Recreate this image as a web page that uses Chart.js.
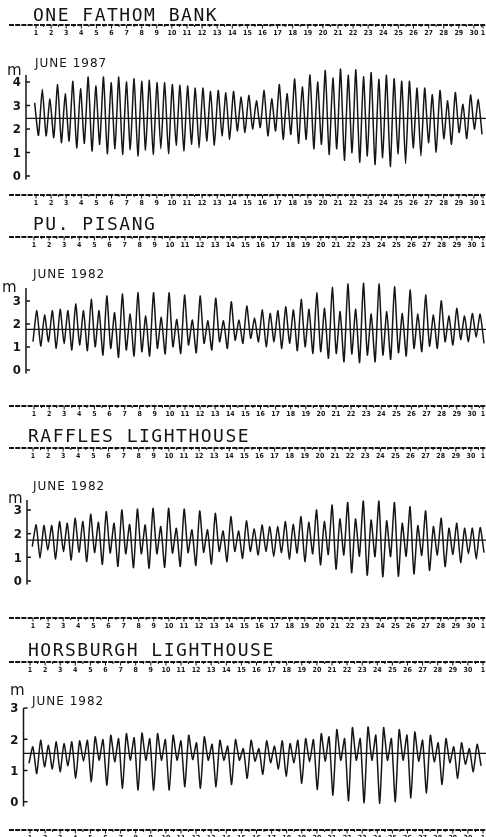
<!DOCTYPE html>
<html>
<head>
<meta charset="utf-8">
<title>Tide records, June 1982</title>
<script src="https://cdn.jsdelivr.net/npm/chart.js@4.4.1/dist/chart.umd.min.js"></script>
<style>
  body { margin: 0; background: #fff; }
  #sheet { width: 486px; }
  canvas { display: block; }
</style>
</head>
<body>
<div id="sheet"></div>
<script>
// day numbers printed on the date strips (the last one is 1 July)
const dayTicks = [1, 2, 3, 4, 5, 6, 7, 8, 9, 10, 11, 12, 13, 14, 15, 16, 17, 18, 19, 20,
                  21, 22, 23, 24, 25, 26, 27, 28, 29, 30, 31];
const dayLabels = ['1', '2', '3', '4', '5', '6', '7', '8', '9', '10', '11', '12', '13', '14', '15',
                   '16', '17', '18', '19', '20', '21', '22', '23', '24', '25', '26', '27', '28', '29', '30', '1'];

const stationNames = ['ONE FATHOM BANK', 'PU. PISANG', 'RAFFLES LIGHTHOUSE', 'HORSBURGH LIGHTHOUSE'];
const monthLabels = ['JUNE 1987', 'JUNE 1982', 'JUNE 1982', 'JUNE 1982'];
const metreTicks = [[0, 1, 2, 3, 4], [0, 1, 2, 3], [0, 1, 2, 3], [0, 1, 2, 3]];
const meanLevels = [2.45, 1.77, 1.73, 1.55];

// day of June of the first and last turning point in each record
const turnStart = [0.91, 0.93, 0.95, 0.93];
const turnEnd = [30.54, 30.80, 30.87, 30.87];

// high and low waters (m), in order
const fathomHigh = [3.11, 3.69, 3.28, 3.89, 3.50, 4.03, 3.71, 4.21, 3.83, 4.21,
                    3.97, 4.21, 4.00, 4.14, 4.03, 4.07, 3.97, 3.97, 3.89, 3.86,
                    3.83, 3.74, 3.74, 3.60, 3.64, 3.54, 3.60, 3.36, 3.43, 3.20,
                    3.64, 3.28, 3.89, 3.50, 4.13, 3.79, 4.30, 4.00, 4.49, 4.17,
                    4.55, 4.29, 4.52, 4.22, 4.40, 4.11, 4.29, 4.14, 4.03, 4.03,
                    3.74, 3.74, 3.46, 3.64, 3.20, 3.55, 3.05, 3.45, 3.25];
const fathomLow = [1.73, 1.71, 1.63, 1.42, 1.49, 1.20, 1.39, 1.06, 1.35, 0.95,
                   1.16, 0.92, 1.13, 0.85, 1.10, 0.92, 1.16, 0.96, 1.31, 1.06,
                   1.35, 1.20, 1.49, 1.31, 1.71, 1.56, 1.92, 1.85, 2.00,
                   2.06, 1.71, 1.92, 1.56, 1.77, 1.39, 1.56, 1.16, 1.35, 0.92,
                   1.16, 0.67, 0.99, 0.59, 0.85, 0.49, 0.78, 0.40, 0.95, 0.53,
                   1.20, 0.85, 1.42, 1.02, 1.59, 1.35, 1.85, 1.59, 1.99, 1.77];

const pisangLow = [1.23, 1.04, 1.23, 0.94, 1.16, 0.87, 1.09, 0.84, 1.01, 0.65,
                   0.94, 0.55, 0.87, 0.61, 0.80, 0.61, 0.94, 0.70, 1.01, 0.72,
                   1.09, 0.75, 1.16, 0.87, 1.23, 0.94, 1.30, 1.16, 1.38,
                   1.23, 1.01, 1.23, 0.94, 1.16, 0.84, 1.01, 0.72, 0.80, 0.51,
                   0.72, 0.36, 0.70, 0.32, 0.65, 0.36, 0.65, 0.46, 0.75, 0.61,
                   0.94, 0.80, 1.04, 0.94, 1.23, 1.09, 1.33, 1.23, 1.42, 1.16];
const pisangHigh = [2.58, 2.39, 2.58, 2.64, 2.58, 2.87, 2.58, 3.07, 2.58, 3.22,
                    2.49, 3.30, 2.43, 3.36, 2.35, 3.36, 2.29, 3.36, 2.20, 3.26,
                    2.17, 3.22, 2.14, 3.12, 2.14, 2.97, 2.17, 2.78, 2.25,
                    2.61, 2.46, 2.58, 2.75, 2.61, 3.07, 2.64, 3.36, 2.68, 3.59,
                    2.54, 3.74, 2.64, 3.77, 2.43, 3.74, 2.54, 3.62, 2.46, 3.48,
                    2.43, 3.26, 2.39, 3.01, 2.35, 2.68, 2.35, 2.46, 2.43];

const rafflesLow = [1.45, 0.96, 1.30, 0.93, 1.25, 0.89, 1.22, 0.82, 1.20, 0.70,
                    1.18, 0.62, 1.15, 0.56, 1.15, 0.54, 1.15, 0.58, 1.18, 0.61,
                    1.20, 0.66, 1.22, 0.72, 1.25, 0.82, 1.25, 0.96, 1.25,
                    1.10, 1.25, 1.03, 1.20, 0.93, 1.18, 0.82, 1.15, 0.68, 1.12,
                    0.50, 1.10, 0.35, 1.05, 0.24, 1.03, 0.18, 1.03, 0.20, 1.05,
                    0.30, 1.08, 0.45, 1.10, 0.61, 1.12, 0.78, 1.15, 0.93, 1.20];
const rafflesHigh = [2.37, 2.34, 2.34, 2.51, 2.44, 2.65, 2.51, 2.82, 2.48, 2.93,
                     2.44, 3.00, 2.39, 3.04, 2.37, 3.07, 2.30, 3.07, 2.23, 3.04,
                     2.16, 2.96, 2.16, 2.86, 2.11, 2.72, 2.11, 2.54, 2.20,
                     2.37, 2.30, 2.30, 2.51, 2.39, 2.72, 2.48, 3.00, 2.51, 3.21,
                     2.62, 3.32, 2.62, 3.38, 2.58, 3.38, 2.54, 3.32, 2.44, 3.14,
                     2.34, 2.96, 2.30, 2.65, 2.23, 2.44, 2.23, 2.23, 2.26];

const horsburghLow = [1.23, 0.90, 1.12, 1.05, 0.96, 1.15, 0.75, 1.30, 0.64, 1.33,
                      0.53, 1.28, 0.43, 1.33, 0.37, 1.33, 0.37, 1.33, 0.37, 1.33,
                      0.48, 1.35, 0.43, 1.33, 0.48, 1.33, 0.55, 1.33,
                      0.75, 1.30, 0.88, 1.25, 1.05, 0.82, 1.25, 0.58, 1.28, 0.39,
                      1.30, 0.21, 1.33, 0.03, 1.33, -0.03, 1.33, -0.05, 1.33, 0.00,
                      1.33, 0.12, 1.30, 0.28, 1.28, 0.55, 1.25, 0.75, 1.20, 0.96, 1.15];
const horsburghHigh = [1.76, 1.97, 1.81, 1.92, 1.86, 1.92, 1.95, 1.97, 2.08, 1.99,
                       2.13, 2.02, 2.18, 2.05, 2.20, 2.02, 2.18, 1.99, 2.13, 1.95,
                       2.13, 1.89, 2.08, 1.84, 1.97, 1.78, 1.99,
                       1.70, 1.97, 1.70, 1.95, 1.78, 1.95, 1.86, 1.97, 2.02, 1.99,
                       2.18, 2.08, 2.31, 2.02, 2.37, 2.02, 2.39, 2.13, 2.37, 2.02,
                       2.31, 2.13, 2.23, 1.97, 2.13, 1.89, 2.02, 1.76, 1.89, 1.70, 1.84];

// put the two lists back into one high/low sequence
function mergeTurns(first, second) {
    let out = [];
    for (let k = 0; k < first.length; k++) {
        out.push(first[k]);
        if (k < second.length) out.push(second[k]);
    }
    return out;
}

const tides = [
    mergeTurns(fathomHigh, fathomLow),
    mergeTurns(pisangLow, pisangHigh),
    mergeTurns(rafflesLow, rafflesHigh),
    mergeTurns(horsburghLow, horsburghHigh)
];

// layout of each strip of the sheet (pixels inside its own canvas)
const dayPx = 15.1;
const pageRight = 486;
const panels = [
    { height: 210, top: 25, bottom: 195, zeroY: 176, pxPerM: 23.5, spineX: 26, day1X: 36, spineTop: 4.3,
      nameX: 33, nameY: 21, monthX: 35, monthY: 67, unitX: 7, unitY: 75 },
    { height: 210, top: 27, bottom: 196, zeroY: 160, pxPerM: 23, spineX: 26, day1X: 34, spineTop: 3.57,
      nameX: 33, nameY: 20, monthX: 33, monthY: 68, unitX: 2, unitY: 82 },
    { height: 210, top: 28, bottom: 198, zeroY: 161, pxPerM: 23.67, spineX: 27, day1X: 33, spineTop: 3.42,
      nameX: 28, nameY: 22, monthX: 33, monthY: 70, unitX: 8, unitY: 83 },
    { height: 207, top: 32, bottom: 200, zeroY: 171.7, pxPerM: 31.2, spineX: 23.5, day1X: 30, spineTop: 3.0,
      nameX: 28, nameY: 26, monthX: 32, monthY: 75, unitX: 10, unitY: 65 }
];

const ink = '#151515';

function drawStrip(ctx, xs, lineY) {
    ctx.lineWidth = 1.8;
    ctx.setLineDash([5, 1.2]);
    ctx.beginPath();
    ctx.moveTo(9, lineY);
    ctx.lineTo(pageRight, lineY);
    ctx.stroke();
    ctx.setLineDash([]);

    ctx.lineWidth = 1;
    ctx.font = 'bold 7px "DejaVu Sans Condensed"';
    ctx.textAlign = 'center';
    ctx.textBaseline = 'top';
    for (let i = 0; i < dayTicks.length; i++) {
        let px = Math.min(xs.getPixelForValue(dayTicks[i]), pageRight - 3);
        ctx.beginPath();
        ctx.moveTo(px, lineY);
        ctx.lineTo(px, lineY + 3.5);
        ctx.stroke();
        ctx.fillText(dayLabels[i], px, lineY + 5);
        // half-day mark
        let hx = xs.getPixelForValue(dayTicks[i] + 0.5);
        if (hx < pageRight - 1) {
            ctx.beginPath();
            ctx.moveTo(hx, lineY);
            ctx.lineTo(hx, lineY + 2);
            ctx.stroke();
        }
    }
}

// station name, month, unit, metre axis and date strips
const paperMarks = {
    id: 'paperMarks',
    afterDraw(chart, args, opts) {
        const ctx = chart.ctx;
        const xs = chart.scales.x;
        const ys = chart.scales.y;
        const p = opts.panel;
        ctx.save();
        ctx.fillStyle = ink;
        ctx.strokeStyle = ink;

        ctx.font = '18px "DejaVu Sans Mono"';
        ctx.letterSpacing = '1.5px';
        ctx.textAlign = 'left';
        ctx.textBaseline = 'alphabetic';
        ctx.fillText(opts.name, p.nameX, p.nameY);

        ctx.font = '12px "DejaVu Sans"';
        ctx.letterSpacing = '1px';
        ctx.fillText(opts.month, p.monthX, p.monthY);

        ctx.letterSpacing = '0px';
        ctx.font = '15px "DejaVu Sans"';
        ctx.fillText('m', p.unitX, p.unitY);

        // metre axis
        let sx = chart.chartArea.left;
        ctx.lineWidth = 1.5;
        ctx.beginPath();
        ctx.moveTo(sx, ys.getPixelForValue(p.spineTop));
        ctx.lineTo(sx, ys.getPixelForValue(-0.15));
        ctx.stroke();
        ctx.font = 'bold 13px "DejaVu Sans Condensed"';
        ctx.textAlign = 'right';
        ctx.textBaseline = 'middle';
        opts.ticks.forEach(function (t) {
            let py = ys.getPixelForValue(t);
            ctx.beginPath();
            ctx.moveTo(sx, py);
            ctx.lineTo(sx + 4, py);
            ctx.stroke();
            ctx.fillText(String(t), sx - 5, py + 1);
        });

        drawStrip(ctx, xs, chart.chartArea.top);
        drawStrip(ctx, xs, chart.chartArea.bottom);
        ctx.restore();
    }
};

const sheet = document.getElementById('sheet');

for (let i = 0; i < panels.length; i++) {
    let p = panels[i];
    let canvas = document.createElement('canvas');
    canvas.width = 486;
    canvas.height = p.height;
    sheet.appendChild(canvas);

    let xMin = 1 - (p.day1X - p.spineX) / dayPx;
    let xMax = 1 + (pageRight - p.day1X) / dayPx;
    let yMin = -(p.bottom - p.zeroY) / p.pxPerM;
    let yMax = (p.zeroY - p.top) / p.pxPerM;

    let levels = tides[i];
    let stepDays = (turnEnd[i] - turnStart[i]) / (levels.length - 1);
    let trace = levels.map(function (v, k) {
        return { x: turnStart[i] + k * stepDays, y: v };
    });

    new Chart(canvas.getContext('2d'), {
        type: 'line',
        data: {
            datasets: [{
                data: trace,
                borderColor: ink,
                borderWidth: 1.5,
                pointRadius: 0,
                tension: 0.2
            }, {
                data: [{ x: xMin, y: meanLevels[i] }, { x: xMax, y: meanLevels[i] }],
                borderColor: ink,
                borderWidth: 1.2,
                pointRadius: 0
            }]
        },
        options: {
            responsive: false,
            animation: false,
            devicePixelRatio: 1,
            layout: { padding: { left: p.spineX, right: 0, top: p.top, bottom: p.height - p.bottom } },
            plugins: {
                legend: { display: false },
                tooltip: { enabled: false },
                paperMarks: { panel: p, name: stationNames[i], month: monthLabels[i], ticks: metreTicks[i] }
            },
            scales: {
                x: { type: 'linear', display: false, min: xMin, max: xMax },
                y: { display: false, min: yMin, max: yMax }
            }
        },
        plugins: [paperMarks]
    });
}
</script>
</body>
</html>
